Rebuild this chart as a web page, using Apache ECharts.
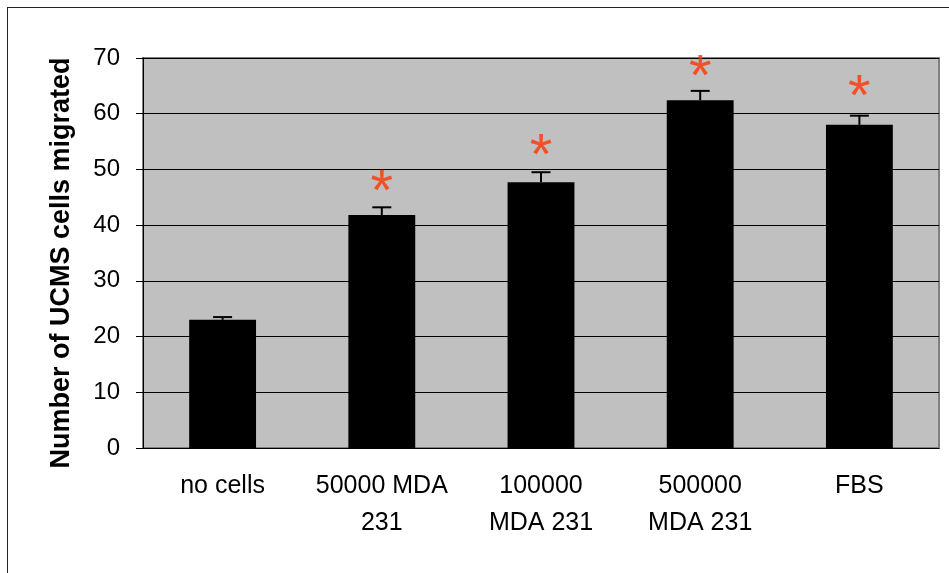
<!DOCTYPE html>
<html><head><meta charset="utf-8">
<script src="https://cdn.jsdelivr.net/npm/echarts@6/dist/echarts.min.js"></script>
<style>html,body{margin:0;padding:0;background:#fff;}#c{width:949px;height:573px;position:relative;}
#frame{position:absolute;left:7px;top:7px;width:960px;height:600px;border:1.5px solid #222;box-sizing:border-box;pointer-events:none;}</style>
</head><body><div id="c"></div><div id="frame"></div>
<script>
const categories = ['no cells', '50000 MDA\n231', '100000\nMDA 231', '500000\nMDA 231', 'FBS'];
const values = [23.0, 41.8, 47.7, 62.4, 58.0];
const errors = [0.5, 1.4, 1.8, 1.7, 1.65];
const starLevels = [null, 47.4, 53.85, 68.05, 64.5];
const yTicks = [0, 10, 20, 30, 40, 50, 60, 70];

const FONT = 'Arial, "Liberation Sans", sans-serif';
const chart = echarts.init(document.getElementById('c'), null, {renderer: 'canvas'});
chart.setOption({
  animation: false,
  backgroundColor: '#fff',
  grid: {left: 143, right: 10, top: 58, bottom: 125, show: true, backgroundColor: '#C0C0C0', borderColor: '#808080', borderWidth: 2},
  xAxis: {
    type: 'category', data: categories,
    axisLine: {lineStyle: {color: '#000', width: 1}},
    axisTick: {length: 8, lineStyle: {color: '#000'}},
    axisLabel: {fontFamily: FONT, fontSize: 25, color: '#000', lineHeight: 37, margin: 20, interval: 0}
  },
  yAxis: {
    type: 'value', min: yTicks[0], max: yTicks[yTicks.length - 1], interval: 10,
    name: 'Number of UCMS cells migrated', nameLocation: 'middle', nameGap: 68,
    nameTextStyle: {fontFamily: FONT, fontSize: 27, fontWeight: 'bold', color: '#000', padding: [0, 20, 0, 0]},
    axisLine: {show: true, lineStyle: {color: '#000', width: 1}},
    axisTick: {show: true, length: 7, lineStyle: {color: '#000'}},
    axisLabel: {fontFamily: FONT, fontSize: 24, color: '#000', margin: 23},
    splitLine: {lineStyle: {color: '#000', width: 1}}
  },
  series: [
    {type: 'bar', data: values, barWidth: '42%', itemStyle: {color: '#000'}},
    {
      type: 'custom', z: 5,
      data: values.map((v, i) => [i, v, errors[i]]),
      renderItem: function (params, api) {
        const i = api.value(0);
        const base = api.coord([i, api.value(1)]);
        const top = api.coord([i, api.value(1) + api.value(2)]);
        const hw = 9.5;
        return {type: 'group', children: [
          {type: 'line', shape: {x1: base[0], y1: base[1], x2: top[0], y2: top[1]}, style: {stroke: '#000', lineWidth: 2}},
          {type: 'line', shape: {x1: top[0] - hw, y1: top[1], x2: top[0] + hw, y2: top[1]}, style: {stroke: '#000', lineWidth: 2}}
        ]};
      }
    },
    {
      type: 'scatter', symbolSize: 0, z: 6,
      data: starLevels.map((v, i) => v == null ? null : [i, v]).filter(d => d),
      label: {show: true, position: 'inside', formatter: '*', fontFamily: FONT, fontSize: 58, color: '#FF3300', offset: [0, 10]}
    }
  ]
});
</script></body></html>
